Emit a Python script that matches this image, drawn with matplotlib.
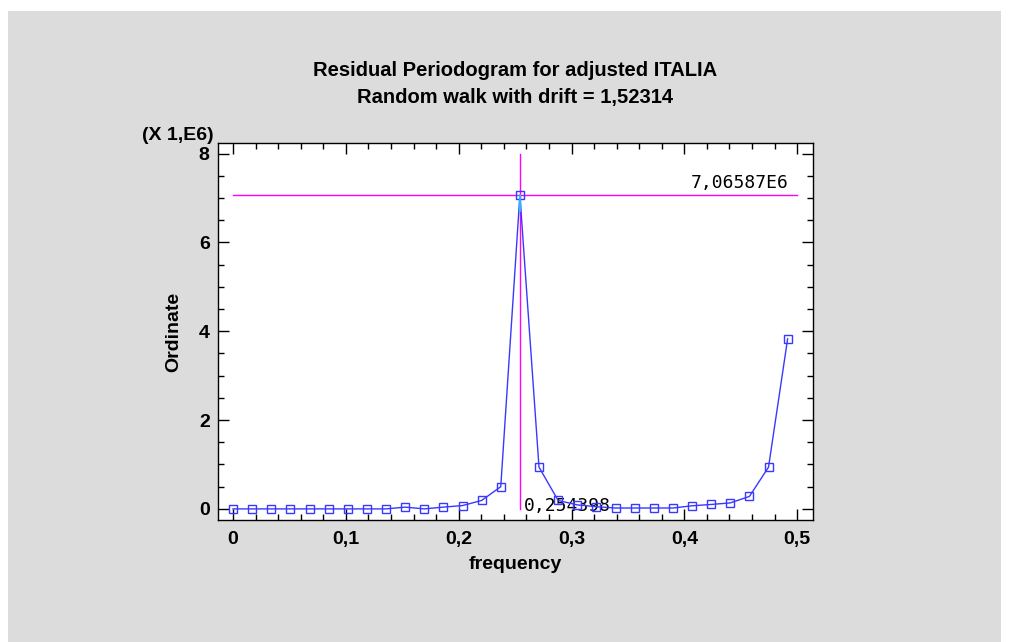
import numpy as np
import matplotlib.pyplot as plt
from matplotlib.patches import Rectangle
from matplotlib.ticker import MultipleLocator, FuncFormatter

# data (ordinate in units of 1E6)
frequency = [k / 59 for k in range(30)]
ordinate = [0.0, 0.0, 0.0, 0.0, 0.0, 0.0, 0.0, 0.0, 0.0, 0.04,
            0.0, 0.04, 0.075, 0.19, 0.5, 7.06587, 0.94, 0.19, 0.09, 0.05,
            0.02, 0.02, 0.02, 0.02, 0.07, 0.1, 0.135, 0.28, 0.94, 3.83]
peakFreq = 0.254398
peakValue = 7.06587
peakFreqLabel = "0,254398"
peakValueLabel = "7,06587E6"

titleLines = ["Residual Periodogram for adjusted ITALIA",
              "Random walk with drift = 1,52314"]

plt.rcParams['font.family'] = ['Liberation Sans', 'DejaVu Sans']

fig = plt.figure(figsize=(10.09, 6.42), dpi=100)
fig.patch.set_facecolor('white')
# gray panel behind everything
fig.patches.append(Rectangle((8 / 1009, 0), 993 / 1009, 631 / 642,
                             transform=fig.transFigure, facecolor='#dcdcdc',
                             edgecolor='none', zorder=-10))

ax = fig.add_axes([218 / 1009, 122 / 642, 595 / 1009, 377 / 642])
ax.set_facecolor('white')

ax.plot(frequency, ordinate, color='#3838ff', lw=1.0, marker='s', ms=6,
        mfc='none', mec='#3838ff', mew=1.0, zorder=3)

# crosshair at the peak
ax.plot([peakFreq, peakFreq], [0, 8.0], color='#ff00ff', lw=1.0, zorder=2)
ax.plot([0, 0.5], [peakValue, peakValue], color='#ff00ff', lw=1.0, zorder=2)
ax.plot([peakFreq, peakFreq], [6.7, peakValue], color='#00e0ff', lw=1.2, zorder=4)

ax.text(0.4925, peakValue + 0.06, peakValueLabel, ha='right', va='bottom',
        family='DejaVu Sans Mono', fontsize=13, color='black')
ax.text(peakFreq + 0.003, -0.14, peakFreqLabel, ha='left', va='bottom',
        family='DejaVu Sans Mono', fontsize=13, color='black', zorder=1)

ax.set_xlim(-0.0133, 0.514)
ax.set_ylim(-0.25, 8.24)

ax.xaxis.set_major_locator(MultipleLocator(0.1))
ax.xaxis.set_minor_locator(MultipleLocator(0.02))
ax.yaxis.set_major_locator(MultipleLocator(2))
ax.yaxis.set_minor_locator(MultipleLocator(0.5))

def commaFmt(v, pos):
    s = ('%.1f' % v).rstrip('0').rstrip('.')
    return s.replace('.', ',')

ax.xaxis.set_major_formatter(FuncFormatter(commaFmt))
ax.yaxis.set_major_formatter(FuncFormatter(lambda v, p: '%d' % round(v)))

ax.tick_params(which='both', direction='in', top=True, right=True, color='black')
ax.tick_params(which='major', length=8, width=1, labelsize=14)
ax.tick_params(axis='x', which='major', pad=8)
ax.tick_params(axis='y', which='major', pad=6)
ax.tick_params(which='minor', length=4, width=1)
for lab in ax.get_xticklabels() + ax.get_yticklabels():
    lab.set_fontweight('bold')

for sp in ax.spines.values():
    sp.set_linewidth(1.0)
    sp.set_color('black')

ax.set_xlabel('frequency', fontsize=14, fontweight='bold', labelpad=6)
ax.set_ylabel('Ordinate', fontsize=14, fontweight='bold', labelpad=12)

fig.text(515 / 1009, 1 - 70 / 642, titleLines[0], ha='center', va='center',
         fontsize=14.5, fontweight='bold')
fig.text(515 / 1009, 1 - 98 / 642, titleLines[1], ha='center', va='center',
         fontsize=14.5, fontweight='bold')
fig.text(178 / 1009, 1 - 135 / 642, '(X 1,E6)', ha='center', va='center',
         fontsize=14, fontweight='bold')

fig.savefig('out.png', dpi=100)
